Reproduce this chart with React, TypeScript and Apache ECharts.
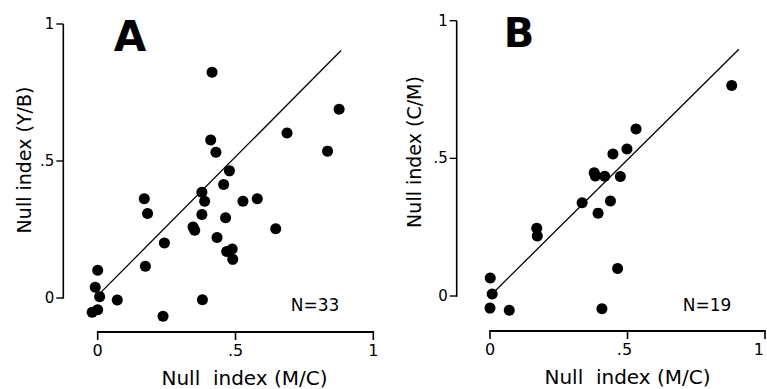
import React, { useEffect, useRef } from "react";
import * as echarts from "echarts";

// Panel A: Null index (M/C) vs Null index (Y/B)
const aX = [0.415, 0.876, 0.687, 0.834, 0.41, 0.429, 0.478, 0.457, 0.378, 0.388, 0.169, 0.181, 0.527, 0.579, 0.378, 0.464, 0.346, 0.352, 0.646, 0.433, 0.242, 0.468, 0.488, 0.49, 0.173, 0.0, -0.009, 0.007, 0.071, 0.38, 0.237, 0.0, -0.02];
const aY = [0.824, 0.689, 0.602, 0.536, 0.577, 0.532, 0.464, 0.414, 0.386, 0.353, 0.362, 0.308, 0.353, 0.362, 0.305, 0.293, 0.259, 0.247, 0.253, 0.221, 0.201, 0.17, 0.179, 0.141, 0.116, 0.101, 0.039, 0.005, -0.007, -0.006, -0.067, -0.043, -0.052];
const aFitX = [0.008, 0.883];
const aFitY = [0.017, 0.903];

// Panel B: Null index (M/C) vs Null index (C/M)
const bX = [0.531, 0.498, 0.447, 0.379, 0.383, 0.417, 0.474, 0.335, 0.438, 0.393, 0.17, 0.172, 0.464, 0.001, 0.008, 0.0, 0.07, 0.407, 0.879];
const bY = [0.607, 0.534, 0.516, 0.448, 0.436, 0.435, 0.434, 0.339, 0.345, 0.301, 0.246, 0.218, 0.1, 0.065, 0.007, -0.044, -0.052, -0.046, 0.765];
const bFitX = [0.012, 0.905];
const bFitY = [0.012, 0.896];

const tickValues = [0, 0.5, 1];
const tickLabels = ["0", ".5", "1"];
const xName = "Null  index (M/C)";
const yNameA = "Null index (Y/B)";
const yNameB = "Null index (C/M)";
const countA = "N=33";
const countB = "N=19";

const FONT = "DejaVu Sans";

const fmt = (v: number) => {
  const i = tickValues.findIndex((t) => Math.abs(t - v) < 1e-9);
  return i >= 0 ? tickLabels[i] : "";
};

const zip = (xs: number[], ys: number[]) => xs.map((x, i) => [x, ys[i]]);

export default function App() {
  const ref = useRef<HTMLDivElement>(null);
  useEffect(() => {
    if (!ref.current) return;
    const chart = echarts.init(ref.current, null, { renderer: "svg" });

    const hidden = (gridIndex: number) => ({
      type: "value",
      gridIndex,
      min: 0,
      max: 1,
      interval: 0.5,
      axisLine: { show: false },
      axisTick: { show: false },
      axisLabel: { show: false },
      splitLine: { show: false },
    });
    const shownX = (gridIndex: number) => ({
      type: "value",
      gridIndex,
      min: 0,
      max: 1,
      interval: 0.5,
      position: "bottom",
      splitLine: { show: false },
      axisLine: { show: false },
      axisTick: { show: false },
      axisLabel: { show: true, formatter: fmt, color: "#000", fontSize: 16, fontFamily: FONT, margin: 10 },
    });
    const shownY = (gridIndex: number) => ({
      type: "value",
      gridIndex,
      min: 0,
      max: 1,
      interval: 0.5,
      position: "left",
      splitLine: { show: false },
      axisLine: { show: false },
      axisTick: { show: false },
      axisLabel: { show: true, formatter: fmt, color: "#000", fontSize: 15, fontFamily: FONT, margin: 9 },
    });
    const scatter = (idx: number, data: number[][]) => ({
      type: "scatter",
      xAxisIndex: idx,
      yAxisIndex: idx,
      data,
      symbolSize: 11,
      clip: false,
      itemStyle: { color: "#000", opacity: 1 },
    });
    const fit = (idx: number, data: number[][]) => ({
      type: "line",
      xAxisIndex: idx,
      yAxisIndex: idx,
      data,
      showSymbol: false,
      clip: false,
      lineStyle: { color: "#000", width: 1.3 },
    });
    const txt = (x: number, y: number, text: string, size: number, extra: any = {}) => ({
      type: "text",
      x,
      y,
      ...extra,
      style: {
        text,
        fill: "#000",
        font: `${extra.bold ? "bold " : ""}${size}px '${FONT}'`,
        align: "center",
        verticalAlign: "middle",
      },
    });
    const box = (x: number, y: number, width: number, height: number) => ({
      type: "rect",
      shape: { x, y, width, height },
      style: { fill: "#000" },
    });

    // Panel geometry
    const A = { left: 97.7, top: 24, width: 275.6, height: 274, yAxisX: 63.3, xAxisY: 332 };
    const B = { left: 490, top: 20.7, width: 275, height: 275.3, yAxisX: 456.7, xAxisY: 331 };
    const grids: any[] = [];
    const axisEls: any[] = [];
    [A, B].forEach((p) => {
      grids.push({ left: p.left, top: p.top, width: p.width, height: p.height });
      grids.push({ left: p.yAxisX, top: p.top, width: p.width, height: p.height });
      grids.push({ left: p.left, top: p.xAxisY - p.height, width: p.width, height: p.height });
      // axis frame drawn as filled bars (same scale as the grids: 0..1 over width/height)
      axisEls.push(box(p.yAxisX - 0.8, p.top, 1.6, p.height + 0.8));
      tickValues.forEach((v) => {
        const y = p.top + p.height * (1 - v);
        axisEls.push(box(p.yAxisX - 7, y - 0.7, 7, 1.4));
      });
      axisEls.push(box(p.left - 0.8, p.xAxisY - 1.1, p.width + 1.6, 2.2));
      tickValues.forEach((v) => {
        const x = p.left + p.width * v;
        axisEls.push(box(x - 0.8, p.xAxisY, 1.6, 8));
      });
    });

    chart.setOption({
      animation: false,
      grid: grids,
      xAxis: [hidden(0), hidden(1), shownX(2), hidden(3), hidden(4), shownX(5)],
      yAxis: [hidden(0), shownY(1), hidden(2), hidden(3), shownY(4), hidden(5)],
      series: [
        scatter(0, zip(aX, aY)),
        fit(0, zip(aFitX, aFitY)),
        scatter(3, zip(bX, bY)),
        fit(3, zip(bFitX, bFitY)),
      ],
      graphic: [
        txt(130, 36, "A", 42, { bold: true }),
        txt(519, 33, "B", 40, { bold: true }),
        txt(315, 305, countA, 17),
        txt(707, 305, countB, 17),
        txt(244.5, 378, xName, 20),
        txt(627.5, 377, xName, 20),
        txt(24, 160, yNameA, 19, { rotation: Math.PI / 2 }),
        txt(414, 152, yNameB, 19, { rotation: Math.PI / 2 }),
        ...axisEls,
      ],
    });
    return () => chart.dispose();
  }, []);
  return (
    <div
      ref={ref}
      style={{ position: "absolute", left: 0, top: 0, width: 767, height: 389, background: "#fff" }}
    />
  );
}
